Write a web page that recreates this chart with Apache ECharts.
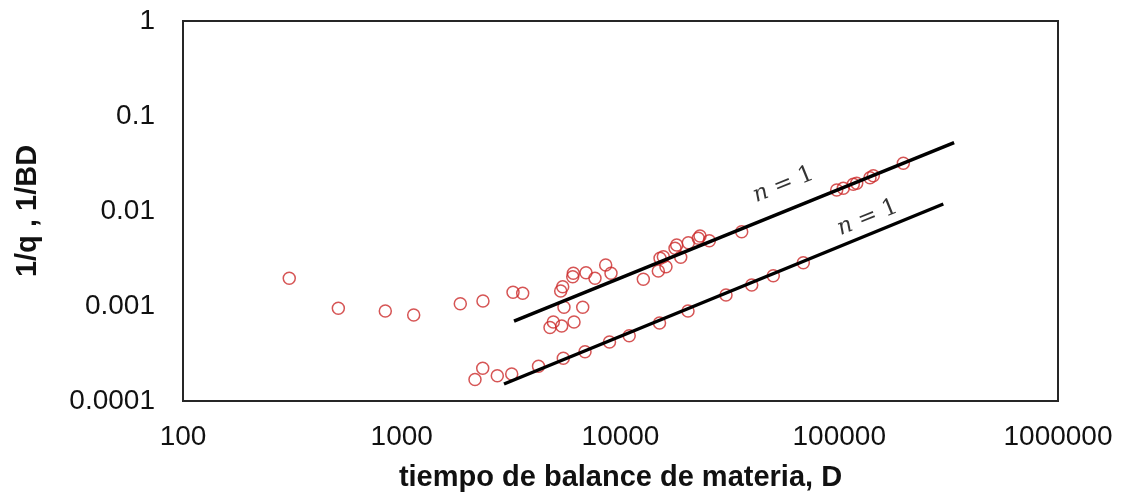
<!DOCTYPE html>
<html><head><meta charset="utf-8">
<script src="https://cdn.jsdelivr.net/npm/echarts@6/dist/echarts.min.js"></script>
<style>html,body{margin:0;padding:0;background:#fff}#c{width:1121px;height:497px}</style>
</head><body><div id="c"></div>
<script>
// Tick labels
const xTicks = [100, 1000, 10000, 100000, 1000000];
const xTickLabels = ['100', '1000', '10000', '100000', '1000000'];
const yTicks = [0.0001, 0.001, 0.01, 0.1, 1];
const yTickLabels = ['0.0001', '0.001', '0.01', '0.1', '1'];

// Series 1: 1/q (upper cloud)
const qTime = [306, 513, 841, 1134, 1852, 2351, 3226, 3572, 4761, 4930, 5385, 6131,
  5328, 5442, 5516, 6719, 6086, 6048, 6956, 7645, 8557, 9049, 12715, 14890, 15160,
  15700, 16140, 17750, 18070, 18850, 20420, 22680, 23090, 25470, 35810, 97340,
  104350, 115930, 120170, 138200, 143100, 196300];
const qInv = [0.001957, 0.000946, 0.000886, 0.000804, 0.001057, 0.001129, 0.001394,
  0.00136, 0.000594, 0.000679, 0.000616, 0.000679, 0.001438, 0.001596, 0.000969,
  0.000969, 0.002209, 0.002034, 0.002242, 0.001957, 0.002701, 0.002209, 0.00191,
  0.002336, 0.003177, 0.003303, 0.002593, 0.004049, 0.004386, 0.003255, 0.004637,
  0.00516, 0.005455, 0.004869, 0.006054, 0.01664, 0.01734, 0.0191, 0.01957,
  0.02241, 0.02353, 0.03177];

// Series 2: 1/BD (lower trend)
const bdTime = [2162, 2345, 2734, 3182, 4219, 5476, 6883, 8906, 10960, 15080, 20350,
  30360, 39800, 49940, 68500];
const bdInv = [0.0001684, 0.0002209, 0.0001846, 0.0001924, 0.0002318, 0.0002815,
  0.0003303, 0.0004178, 0.0004869, 0.0006623, 0.000886, 0.001305, 0.001664,
  0.002084, 0.002856];

// Unit-slope guide lines (endpoints)
const upperLineX = [3260, 335000];
const upperLineY = [0.000695, 0.0524];
const lowerLineX = [2934, 299000];
const lowerLineY = [0.000151, 0.01185];
const slopeLabel = '{i|n} = 1';

function zip(a, b) { return a.map((v, i) => [v, b[i]]); }
function logLerp(xs, ys, t) {
  const lx = Math.log10(xs[0]) + t * (Math.log10(xs[1]) - Math.log10(xs[0]));
  const ly = Math.log10(ys[0]) + t * (Math.log10(ys[1]) - Math.log10(ys[0]));
  return [Math.pow(10, lx), Math.pow(10, ly)];
}
function tickFmt(ticks, labels) {
  return function (v) {
    const i = ticks.findIndex(t => Math.abs(Math.log10(t) - Math.log10(v)) < 1e-6);
    return i >= 0 ? labels[i] : '';
  };
}

const red = '#CC2B2B';
const markerStyle = { color: 'rgba(0,0,0,0)', borderColor: red, borderWidth: 1.5 };
const lineStyle = { color: '#000', width: 3.5 };
const labelBase = {
  show: true, position: 'inside', rotate: 22, formatter: slopeLabel,
  fontFamily: 'DejaVu Serif', fontSize: 23, color: '#000',
  rich: { i: { fontFamily: 'DejaVu Serif', fontSize: 23, fontStyle: 'italic', color: '#000' } }
};

const chart = echarts.init(document.getElementById('c'), null, { renderer: 'canvas' });
chart.setOption({
  animation: false,
  backgroundColor: '#fff',
  grid: {
    left: 183, right: 63, top: 21, bottom: 96,
    show: true, borderColor: '#262626', borderWidth: 2, backgroundColor: 'transparent',
    outerBoundsMode: 'none'
  },
  xAxis: {
    type: 'log', logBase: 10, min: 100, max: 1000000, splitNumber: 4,
    name: 'tiempo de balance de materia, D', nameLocation: 'middle', nameGap: 62,
    nameTextStyle: { fontFamily: 'Liberation Sans', fontWeight: 'bold', fontSize: 29, color: '#111' },
    axisLine: { show: false }, axisTick: { show: false }, splitLine: { show: false },
    axisLabel: {
      formatter: tickFmt(xTicks, xTickLabels), margin: 22,
      fontFamily: 'Liberation Sans', fontSize: 28, color: '#111',
      showMinLabel: true, showMaxLabel: true
    }
  },
  yAxis: {
    type: 'log', logBase: 10, min: 0.0001, max: 1, splitNumber: 4,
    name: '1/q , 1/BD', nameLocation: 'middle', nameGap: 141, nameRotate: 90,
    nameTextStyle: { fontFamily: 'Liberation Sans', fontWeight: 'bold', fontSize: 29, color: '#111' },
    axisLine: { show: false }, axisTick: { show: false }, splitLine: { show: false },
    axisLabel: {
      formatter: tickFmt(yTicks, yTickLabels), margin: 28,
      fontFamily: 'Liberation Sans', fontSize: 28, color: '#111',
      showMinLabel: true, showMaxLabel: true
    }
  },
  series: [
    { type: 'scatter', name: '1/q', data: zip(qTime, qInv), symbol: 'circle', symbolSize: 12,
      itemStyle: markerStyle, z: 2 },
    { type: 'scatter', name: '1/BD', data: zip(bdTime, bdInv), symbol: 'circle', symbolSize: 12,
      itemStyle: markerStyle, z: 2 },
    { type: 'line', data: zip(upperLineX, upperLineY), symbol: 'none', lineStyle: lineStyle, z: 3 },
    { type: 'line', data: zip(lowerLineX, lowerLineY), symbol: 'none', lineStyle: lineStyle, z: 3 },
    { type: 'scatter', symbolSize: 0, z: 4, silent: true,
      label: labelBase,
      data: [
        { value: logLerp(upperLineX, upperLineY, 0.606), label: Object.assign({}, labelBase, { offset: [13, -25] }) },
        { value: logLerp(lowerLineX, lowerLineY, 0.82), label: Object.assign({}, labelBase, { offset: [10, -16] }) }
      ]
    }
  ]
});
</script>
</body></html>
